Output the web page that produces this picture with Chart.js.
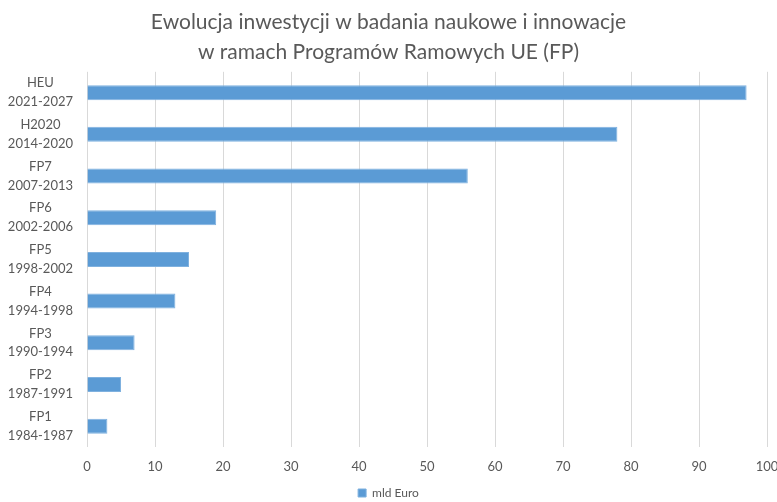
<!DOCTYPE html>
<html>
<head>
<meta charset="utf-8">
<script src="https://cdn.jsdelivr.net/npm/chart.js@4"></script>
<style>
  html, body { margin: 0; padding: 0; background: #fff; }
  #wrap { width: 777px; height: 502px; }
</style>
</head>
<body>
<div id="wrap"><canvas id="chart"></canvas></div>
<script>
// categories, top to bottom
var programmes = ['HEU', 'H2020', 'FP7', 'FP6', 'FP5', 'FP4', 'FP3', 'FP2', 'FP1'];
var periods = ['2021-2027', '2014-2020', '2007-2013', '2002-2006', '1998-2002',
               '1994-1998', '1990-1994', '1987-1991', '1984-1987'];
// mld Euro
var budget = [97, 78, 56, 19, 15, 13, 7, 5, 3];
var xTicks = [0, 10, 20, 30, 40, 50, 60, 70, 80, 90, 100];

var labels = programmes.map(function(p, i) { return [p, periods[i]]; });
var textColor = '#595959';
var fontFamily = 'Lato, "Open Sans", sans-serif';

new Chart(document.getElementById('chart'), {
    type: 'bar',
    data: {
        labels: labels,
        datasets: [{
            label: 'mld Euro',
            data: budget,
            backgroundColor: '#5B9BD5',
            borderColor: '#7FB1DF',
            borderWidth: 1,
            categoryPercentage: 1,
            barPercentage: 0.36
        }]
    },
    options: {
        indexAxis: 'y',
        responsive: true,
        maintainAspectRatio: false,
        animation: false,
        layout: { padding: { top: 8, right: 0, bottom: -7, left: 0 } },
        plugins: {
            title: {
                display: true,
                text: ['Ewolucja inwestycji w badania naukowe i innowacje',
                       'w ramach Programów Ramowych UE (FP)'],
                color: textColor,
                font: { family: fontFamily, size: 21, weight: 'normal', lineHeight: 1.4 },
                padding: { top: 0, bottom: 5 }
            },
            legend: {
                position: 'bottom',
                labels: {
                    color: textColor,
                    font: { family: fontFamily, size: 12 },
                    boxWidth: 8,
                    boxHeight: 8,
                    padding: 3
                }
            },
            tooltip: { enabled: false }
        },
        scales: {
            x: {
                min: 0,
                max: 100,
                afterBuildTicks: function(scale) {
                    scale.ticks = xTicks.map(function(v) { return { value: v }; });
                },
                afterFit: function(scale) {
                    scale.height = 37;
                    scale.paddingRight = 10;
                    scale.paddingLeft = 0;
                },
                grid: { color: '#d9d9d9', drawTicks: false },
                border: { display: false },
                ticks: {
                    color: textColor,
                    font: { family: fontFamily, size: 13 },
                    padding: 12,
                    maxRotation: 0
                }
            },
            y: {
                grid: { display: false },
                border: { display: false },
                afterFit: function(scale) { scale.width = 87; },
                ticks: {
                    color: textColor,
                    font: { family: fontFamily, size: 13, lineHeight: 1.45 },
                    crossAlign: 'center',
                    autoSkip: false,
                    padding: 6
                }
            }
        }
    }
});
</script>
</body>
</html>
